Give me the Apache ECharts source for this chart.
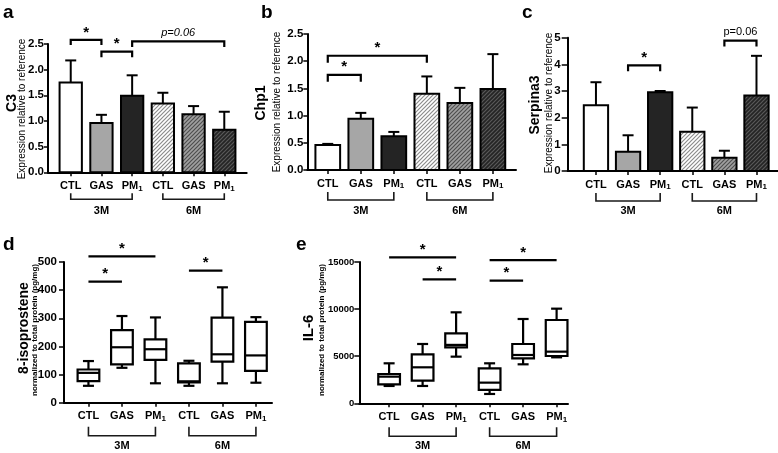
<!DOCTYPE html>
<html><head><meta charset="utf-8">
<script src="https://cdn.jsdelivr.net/npm/echarts@6/dist/echarts.min.js"></script>
<style>html,body{margin:0;padding:0;background:#fff}#c{width:778px;height:453px}</style>
</head><body><div id="c"></div>
<script>
// ---------- data ----------
const categories = ['CTL', 'GAS', 'PM1', 'CTL', 'GAS', 'PM1'];
const groupLabels = ['3M', '6M'];
const groupSpans = [[0, 2], [3, 5]];

// panel a : C3 (mean, upper error)
const c3Mean = [1.75, 0.96, 1.49, 1.34, 1.13, 0.83];
const c3Err  = [2.18, 1.12, 1.89, 1.55, 1.29, 1.18];
// panel b : Chp1
const chp1Mean = [0.46, 0.94, 0.62, 1.40, 1.23, 1.49];
const chp1Err  = [0.48, 1.05, 0.70, 1.72, 1.51, 2.13];
// panel c : Serpina3
const serpMean = [2.47, 0.72, 2.95, 1.47, 0.50, 2.83];
const serpErr  = [3.33, 1.34, 3.00, 2.38, 0.76, 4.32];

// panel d : 8-isoprostene box plots [min, Q1, median, Q3, max]
const isoBox = [
  [60, 77, 106, 118, 148],
  [124, 136, 197, 258, 308],
  [69, 152, 190, 225, 303],
  [60, 72, 76, 140, 149],
  [69, 146, 172, 302, 410],
  [71, 113, 168, 287, 304]
];
// panel e : IL-6 box plots
const il6Box = [
  [1840, 2016, 2830, 3113, 4245],
  [1840, 2405, 3820, 5200, 6296],
  [4952, 5943, 6200, 7428, 9657],
  [990, 1415, 2193, 3714, 4245],
  [4139, 4775, 5129, 6296, 8950],
  [4881, 5023, 5483, 8843, 10046]
];

// significance brackets [fromCat, toCat, y, dropTo]
const sigA = [[0, 1, 2.58, 2.48], [1, 2, 2.35, 2.24], [2, 5, 2.55, 2.44]];
const sigALabels = ['*', '*', 'p=0.06'];
const sigB = [[0, 3, 2.10, 1.97], [0, 1, 1.75, 1.62]];
const sigBLabels = ['*', '*'];
const sigC = [[1, 2, 3.96, 3.74], [4, 5, 4.89, 4.67]];
const sigCLabels = ['*', 'p=0.06'];
const sigD = [[0, 2, 520, 520], [0, 1, 430, 430], [3, 4, 469, 469]];
const sigDLabels = ['*', '*', '*'];
const sigE = [[0, 2, 15500, 15500], [1, 2, 13160, 13160], [3, 5, 15200, 15200], [3, 4, 13020, 13020]];
const sigELabels = ['*', '*', '*', '*'];

// ---------- styling ----------
const FF = 'Liberation Sans, Arial, Helvetica, sans-serif';
function hatch(bg, line) {
  const s = 4;
  const c = document.createElement('canvas');
  c.width = c.height = s;
  const ctx = c.getContext('2d');
  ctx.fillStyle = bg; ctx.fillRect(0, 0, s, s);
  ctx.strokeStyle = line; ctx.lineWidth = 1.2;
  ctx.beginPath();
  ctx.moveTo(0, s); ctx.lineTo(s, 0);
  ctx.moveTo(-1, 1); ctx.lineTo(1, -1);
  ctx.moveTo(s - 1, s + 1); ctx.lineTo(s + 1, s - 1);
  ctx.stroke();
  return { image: c, repeat: 'repeat' };
}
const fills = ['#ffffff', '#a6a6a6', '#242424',
  hatch('#ffffff', '#8c8c8c'), hatch('#a0a0a0', '#4e4e4e'), hatch('#242424', '#5a5a5a')];

const panels = [
  { left: 48, top: 44, width: 198.7, height: 128.3, xmin: -0.74, xmax: 5.73, ymax: 2.5, step: 0.5, dec: 1, barW: 22.3, br: [21, 27, 39], yfs: 11.5, ym: 4, tl: 4 },
  { left: 307.3, top: 34, width: 208.7, height: 136, xmin: -0.62, xmax: 5.70, ymax: 2.5, step: 0.5, dec: 1, barW: 24.7, br: [22, 30, 41], yfs: 11.5, ym: 4, tl: 4 },
  { left: 567.7, top: 37.7, width: 210.3, height: 133.3, xmin: -0.88, xmax: 5.67, ymax: 5, step: 1, dec: 0, barW: 24.3, br: [22, 30, 40], yfs: 11.5, ym: 7, tl: 6 },
  { left: 64, top: 262, width: 208, height: 140.7, xmin: -0.73, xmax: 5.48, ymax: 500, step: 100, dec: 0, barW: 21.7, br: [24, 33, 43], yfs: 11.5, ym: 7, tl: 5 },
  { left: 359.3, top: 262, width: 208.7, height: 141.3, xmin: -0.89, xmax: 5.34, ymax: 15000, step: 5000, dec: 0, barW: 21.7, br: [24, 33, 43], yfs: 9.5, ym: 5, tl: 5 }
];

const rich = {
  m: { fontSize: 11, fontWeight: 'bold', fontFamily: FF, color: '#000', lineHeight: 13 },
  s: { fontSize: 8, fontWeight: 'bold', fontFamily: FF, color: '#000', lineHeight: 8, verticalAlign: 'bottom' }
};
function catFmt(v) {
  const c = categories[Math.round(v)];
  if (c === undefined) return '';
  return c === 'PM1' ? '{m|PM}{s|1}' : '{m|' + c + '}';
}

const grids = [], xAxes = [], yAxes = [];
panels.forEach((p, g) => {
  grids.push({ left: p.left, top: p.top, width: p.width, height: p.height, containLabel: false });
  xAxes.push({
    type: 'value', gridIndex: g, min: p.xmin, max: p.xmax,
    axisLine: { show: true, onZero: false, lineStyle: { color: '#000', width: 2 } },
    splitLine: { show: false },
    axisTick: { show: true, customValues: [0, 1, 2, 3, 4, 5], length: 4, lineStyle: { color: '#000', width: 1.5 } },
    axisLabel: { customValues: [0, 1, 2, 3, 4, 5], formatter: catFmt, rich: rich, margin: 7 }
  });
  yAxes.push({
    type: 'value', gridIndex: g, min: 0, max: p.ymax, interval: p.step,
    axisLine: { show: true, onZero: false, lineStyle: { color: '#000', width: 2 } },
    splitLine: { show: false },
    axisTick: { show: true, length: p.tl, lineStyle: { color: '#000', width: 1.5 } },
    axisLabel: { color: '#000', fontWeight: 'bold', fontSize: p.yfs, fontFamily: FF, margin: p.ym,
      formatter: v => v.toFixed(p.dec) }
  });
});

function barSeries(g, means) {
  const w = panels[g].barW;
  return {
    type: 'custom', xAxisIndex: g, yAxisIndex: g, clip: false, z: 3,
    encode: { x: 0, y: 1 },
    data: means.map((v, i) => [i, v]),
    renderItem(params, api) {
      const i = api.value(0), v = api.value(1);
      const a = api.coord([i, 0]), b = api.coord([i, v]);
      return { type: 'rect', shape: { x: a[0] - w / 2, y: b[1], width: w, height: a[1] - b[1] },
        style: { fill: fills[i], stroke: '#000', lineWidth: 2 } };
    }
  };
}
function errSeries(g, means, tops) {
  const cw = 11;
  return {
    type: 'custom', xAxisIndex: g, yAxisIndex: g, clip: false, z: 2,
    encode: { x: 0, y: [1, 2] },
    data: means.map((v, i) => [i, v, tops[i]]),
    renderItem(params, api) {
      const i = api.value(0);
      const a = api.coord([i, api.value(1)]), b = api.coord([i, api.value(2)]);
      const st = { stroke: '#000', lineWidth: 2 };
      return { type: 'group', children: [
        { type: 'line', shape: { x1: a[0], y1: a[1], x2: b[0], y2: b[1] }, style: st },
        { type: 'line', shape: { x1: b[0] - cw / 2, y1: b[1], x2: b[0] + cw / 2, y2: b[1] }, style: st }
      ] };
    }
  };
}
function boxSeries(g, boxes) {
  const w = panels[g].barW, cw = 11;
  return {
    type: 'custom', xAxisIndex: g, yAxisIndex: g, clip: false, z: 3,
    encode: { x: 0, y: [1, 2, 3, 4, 5] },
    data: boxes.map((b, i) => [i].concat(b)),
    renderItem(params, api) {
      const i = api.value(0);
      const ys = [1, 2, 3, 4, 5].map(k => api.coord([i, api.value(k)])[1]);
      const x = api.coord([i, 0])[0];
      const st = { stroke: '#000', lineWidth: 2.2 };
      return { type: 'group', children: [
        { type: 'line', shape: { x1: x, y1: ys[3], x2: x, y2: ys[4] }, style: st },
        { type: 'line', shape: { x1: x, y1: ys[1], x2: x, y2: ys[0] }, style: st },
        { type: 'line', shape: { x1: x - cw / 2, y1: ys[4], x2: x + cw / 2, y2: ys[4] }, style: st },
        { type: 'line', shape: { x1: x - cw / 2, y1: ys[0], x2: x + cw / 2, y2: ys[0] }, style: st },
        { type: 'rect', shape: { x: x - w / 2, y: ys[3], width: w, height: ys[1] - ys[3] }, style: { fill: '#fff', stroke: '#000', lineWidth: 2.2 } },
        { type: 'line', shape: { x1: x - w / 2, y1: ys[2], x2: x + w / 2, y2: ys[2] }, style: st }
      ] };
    }
  };
}
function sigSeries(g, sig, labels, italicIdx) {
  return {
    type: 'custom', xAxisIndex: g, yAxisIndex: g, clip: false, z: 4,
    encode: { x: [0, 1], y: [2, 3] },
    data: sig,
    renderItem(params, api) {
      const k = params.dataIndex;
      const p1 = api.coord([api.value(0), api.value(2)]);
      const p2 = api.coord([api.value(1), api.value(2)]);
      const d = api.coord([api.value(0), api.value(3)])[1];
      const lab = labels[k];
      const isStar = lab === '*';
      return { type: 'group', children: [
        { type: 'polyline', shape: { points: [[p1[0], d], [p1[0], p1[1]], [p2[0], p1[1]], [p2[0], d]] },
          style: { fill: 'none', stroke: '#000', lineWidth: 2.2 } },
        { type: 'text', x: (p1[0] + p2[0]) / 2, y: p1[1] - (isStar ? 0 : 3),
          style: { text: lab, fill: '#000', fontFamily: FF,
            fontSize: isStar ? 15 : 11, fontWeight: isStar ? 'bold' : 'normal',
            fontStyle: (italicIdx && !isStar) ? 'italic' : 'normal',
            align: 'center', verticalAlign: 'bottom', textAlign: 'center', textVerticalAlign: 'bottom' } }
      ] };
    }
  };
}
function groupSeries(g) {
  const br = panels[g].br;
  return {
    type: 'custom', xAxisIndex: g, yAxisIndex: g, clip: false, z: 4,
    encode: { x: [0, 1], y: 2 },
    data: groupSpans.map(s => [s[0], s[1], 0]),
    renderItem(params, api) {
      const k = params.dataIndex;
      const a = api.coord([api.value(0), 0]), b = api.coord([api.value(1), 0]);
      const y0 = a[1];
      return { type: 'group', children: [
        { type: 'polyline', shape: { points: [[a[0], y0 + br[0]], [a[0], y0 + br[1]], [b[0], y0 + br[1]], [b[0], y0 + br[0]]] },
          style: { fill: 'none', stroke: '#1a1a1a', lineWidth: 1.6 } },
        { type: 'text', x: (a[0] + b[0]) / 2, y: y0 + br[2],
          style: { text: groupLabels[k], fill: '#000', fontFamily: FF, fontSize: 11, fontWeight: 'bold',
            align: 'center', verticalAlign: 'middle', textAlign: 'center', textVerticalAlign: 'middle' } }
      ] };
    }
  };
}

function vText(x, y, text, size, weight) {
  return { type: 'text', x: x, y: y, rotation: Math.PI / 2,
    style: { text: text, fill: '#000', fontFamily: FF, fontSize: size, fontWeight: weight,
      align: 'center', verticalAlign: 'middle', textAlign: 'center', textVerticalAlign: 'middle' } };
}
function letter(x, y, t) {
  return { type: 'text', x: x, y: y,
    style: { text: t, fill: '#000', fontFamily: FF, fontSize: 19, fontWeight: 'bold',
      align: 'left', verticalAlign: 'bottom', textAlign: 'left', textVerticalAlign: 'bottom' } };
}

const option = {
  animation: false,
  backgroundColor: '#fff',
  textStyle: { fontFamily: FF },
  grid: grids, xAxis: xAxes, yAxis: yAxes,
  graphic: [
    letter(3, 22, 'a'), letter(261, 22, 'b'), letter(522, 22, 'c'),
    letter(3, 254, 'd'), letter(296, 254, 'e'),
    vText(12, 103, 'C3', 14, 'bold'),
    vText(22.5, 109, 'Expression relative to reference', 10, 'normal'),
    vText(261, 103, 'Chp1', 14, 'bold'),
    vText(277, 102, 'Expression relative to reference', 10, 'normal'),
    vText(535.5, 105, 'Serpina3', 14, 'bold'),
    vText(549, 103, 'Expression relative to reference', 10, 'normal'),
    vText(24, 328, '8-isoprostene', 14, 'bold'),
    vText(34.5, 330, 'normalized to total protein (pg/mg)', 8, 'bold'),
    vText(309, 328, 'IL-6', 15, 'bold'),
    vText(321.5, 330, 'normalized to total protein (pg/mg)', 8, 'bold')
  ],
  series: [
    errSeries(0, c3Mean, c3Err), barSeries(0, c3Mean), sigSeries(0, sigA, sigALabels, true), groupSeries(0),
    errSeries(1, chp1Mean, chp1Err), barSeries(1, chp1Mean), sigSeries(1, sigB, sigBLabels, false), groupSeries(1),
    errSeries(2, serpMean, serpErr), barSeries(2, serpMean), sigSeries(2, sigC, sigCLabels, false), groupSeries(2),
    boxSeries(3, isoBox), sigSeries(3, sigD, sigDLabels, false), groupSeries(3),
    boxSeries(4, il6Box), sigSeries(4, sigE, sigELabels, false), groupSeries(4)
  ]
};
const chart = echarts.init(document.getElementById('c'), null, { renderer: 'canvas' });
chart.setOption(option);
</script>
</body></html>
